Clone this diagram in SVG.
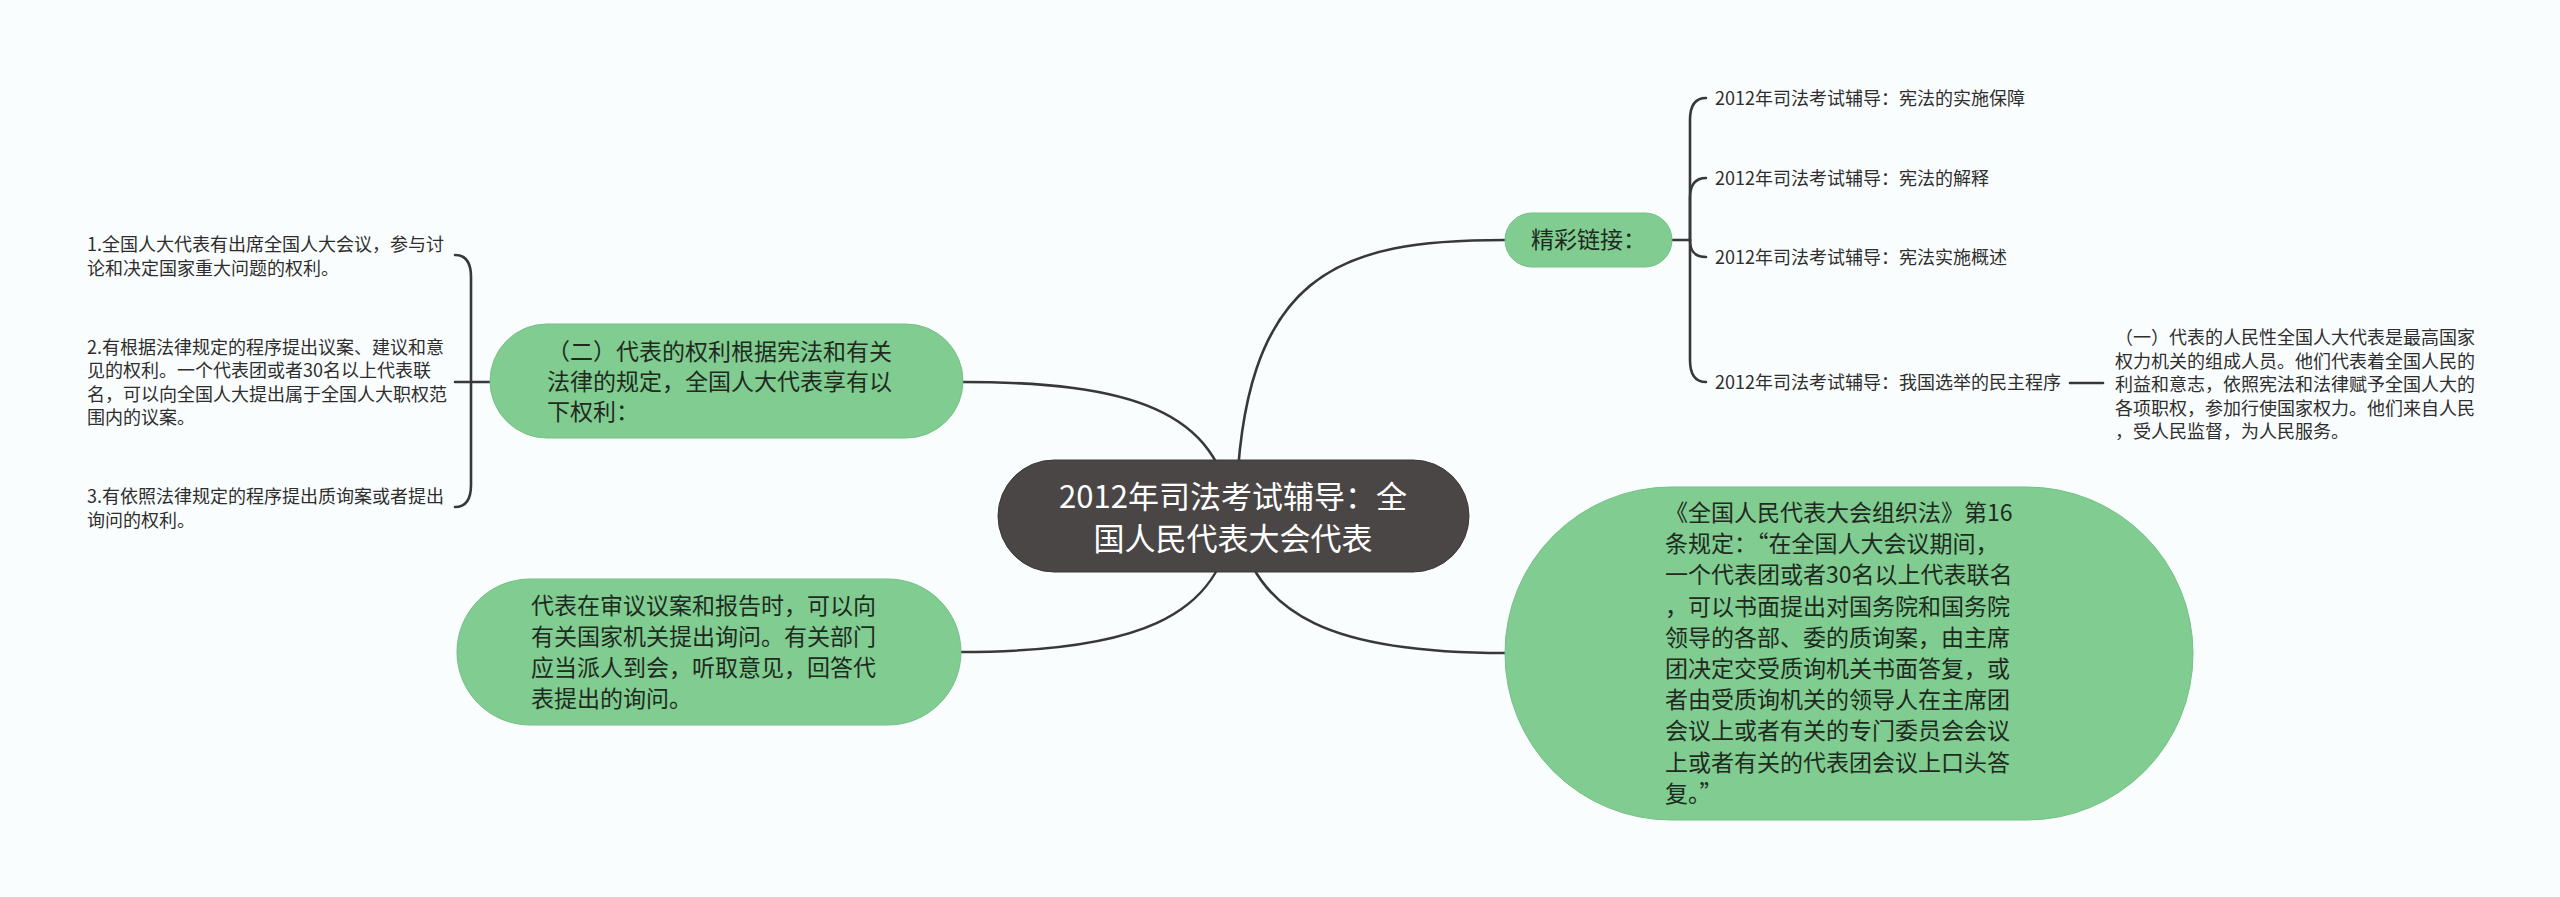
<svg xmlns="http://www.w3.org/2000/svg" width="2560" height="897" viewBox="0 0 2560 897">
<defs>
<style>
.bg{fill:#fafdfd}
.ln{fill:none;stroke:#383838;stroke-width:2.6;stroke-linecap:round}
.gn{fill:#80cc91;stroke:#74c186;stroke-width:1}
.cn{fill:#4a4646;stroke:#3c3838;stroke-width:1}
.t{font-family:"Noto Sans CJK SC","Noto Sans",sans-serif}
.gt{font-size:23px;fill:#1f2a20}
.ct{font-size:31px;fill:#ffffff}
.st{font-size:18px;fill:#2e2e2e}
</style>
</defs>
<rect class="bg" x="0" y="0" width="2560" height="897"/>
<g id="connectors">
<path class="ln" d="M 1236 515 C 1240 270, 1340 240, 1505 240"/>
<path class="ln" d="M 1232 515 C 1220 410, 1130 382, 962 382"/>
<path class="ln" d="M 1232 515 C 1225 620, 1130 652, 960 652"/>
<path class="ln" d="M 1236 515 C 1252 620, 1340 653, 1505 653"/>
<path class="ln" d="M 1672 240 L 1690 240"/>
<path class="ln" d="M 1690 240 L 1690 120 Q 1690 98 1706 98"/>
<path class="ln" d="M 1690 240 L 1690 198 Q 1690 178 1706 178"/>
<path class="ln" d="M 1690 240 C 1690 252, 1695 257, 1706 257"/>
<path class="ln" d="M 1690 240 L 1690 360 Q 1690 382 1706 382"/>
<path class="ln" d="M 2070 383 L 2103 383"/>
<path class="ln" d="M 490 382 L 455 382"/>
<path class="ln" d="M 471 382 L 471 277 Q 471 255 455 255"/>
<path class="ln" d="M 471 382 L 471 485 Q 471 507 455 507"/>
</g>
<g id="node-center">
<rect class="cn" x="998" y="460" width="471" height="112" rx="56"/>
<text class="t ct" text-anchor="middle"><tspan x="1233" y="508">2012年司法考试辅导：全</tspan><tspan x="1233" y="550">国人民代表大会代表</tspan></text>
</g>
<g id="node-rights">
<rect class="gn" x="490" y="324" width="473" height="114" rx="57"/>
<text class="t gt"><tspan x="547" y="360">（二）代表的权利根据宪法和有关</tspan><tspan x="547" y="390">法律的规定，全国人大代表享有以</tspan><tspan x="547" y="420">下权利：</tspan></text>
</g>
<g id="node-right-1">
<text class="t st"><tspan x="87" y="251">1.全国人大代表有出席全国人大会议，参与讨</tspan><tspan x="87" y="274.5">论和决定国家重大问题的权利。</tspan></text>
</g>
<g id="node-right-2">
<text class="t st"><tspan x="87" y="353.5">2.有根据法律规定的程序提出议案、建议和意</tspan><tspan x="87" y="377">见的权利。一个代表团或者30名以上代表联</tspan><tspan x="87" y="400.5">名，可以向全国人大提出属于全国人大职权范</tspan><tspan x="87" y="424">围内的议案。</tspan></text>
</g>
<g id="node-right-3">
<text class="t st"><tspan x="87" y="503">3.有依照法律规定的程序提出质询案或者提出</tspan><tspan x="87" y="526.5">询问的权利。</tspan></text>
</g>
<g id="node-inquiry">
<rect class="gn" x="457" y="579" width="504" height="146" rx="73"/>
<text class="t gt"><tspan x="531" y="614">代表在审议议案和报告时，可以向</tspan><tspan x="531" y="645">有关国家机关提出询问。有关部门</tspan><tspan x="531" y="676">应当派人到会，听取意见，回答代</tspan><tspan x="531" y="707">表提出的询问。</tspan></text>
</g>
<g id="node-links">
<rect class="gn" x="1505" y="213" width="167" height="54" rx="27"/>
<text class="t gt" x="1531" y="248">精彩链接：</text>
</g>
<g id="link-1"><text class="t st" x="1715" y="105">2012年司法考试辅导：宪法的实施保障</text></g>
<g id="link-2"><text class="t st" x="1715" y="185">2012年司法考试辅导：宪法的解释</text></g>
<g id="link-3"><text class="t st" x="1715" y="264">2012年司法考试辅导：宪法实施概述</text></g>
<g id="link-4"><text class="t st" x="1715" y="389">2012年司法考试辅导：我国选举的民主程序</text></g>
<g id="node-people">
<text class="t st"><tspan x="2115" y="344">（一）代表的人民性全国人大代表是最高国家</tspan><tspan x="2115" y="367.5">权力机关的组成人员。他们代表着全国人民的</tspan><tspan x="2115" y="391">利益和意志，依照宪法和法律赋予全国人大的</tspan><tspan x="2115" y="414.5">各项职权，参加行使国家权力。他们来自人民</tspan><tspan x="2115" y="438">，受人民监督，为人民服务。</tspan></text>
</g>
<g id="node-law">
<rect class="gn" x="1505" y="487" width="688" height="333" rx="166"/>
<text class="t gt"><tspan x="1665" y="521">《全国人民代表大会组织法》第16</tspan><tspan x="1665" y="552">条规定：“在全国人大会议期间，</tspan><tspan x="1665" y="583">一个代表团或者30名以上代表联名</tspan><tspan x="1665" y="615">，可以书面提出对国务院和国务院</tspan><tspan x="1665" y="646">领导的各部、委的质询案，由主席</tspan><tspan x="1665" y="677">团决定交受质询机关书面答复，或</tspan><tspan x="1665" y="708">者由受质询机关的领导人在主席团</tspan><tspan x="1665" y="739">会议上或者有关的专门委员会会议</tspan><tspan x="1665" y="771">上或者有关的代表团会议上口头答</tspan><tspan x="1665" y="802">复。”</tspan></text>
</g>
</svg>
